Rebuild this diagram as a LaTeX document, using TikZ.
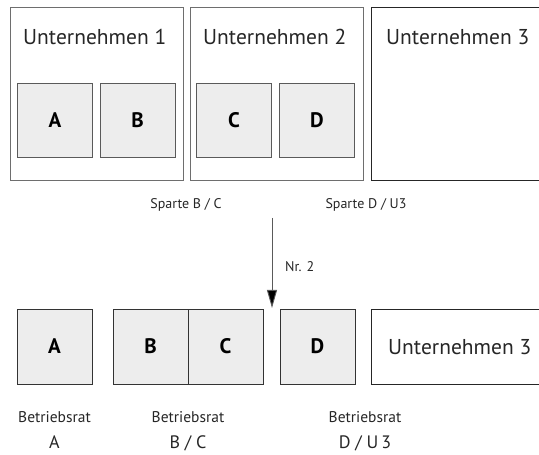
\documentclass[tikz,border=0pt]{standalone}
\usepackage{fontspec}
\setmainfont{PT Sans}
\usetikzlibrary{arrows.meta}
\definecolor{boxfill}{HTML}{EDEDED}
\definecolor{framegray}{HTML}{6E6E6E}
\definecolor{linegray}{HTML}{5A5A5A}
\tikzset{
  firm/.style={draw=framegray, line width=0.9pt, minimum width=173pt, minimum height=173pt, inner sep=0pt},
  firmopen/.style={draw=black!85, line width=0.9pt, minimum width=170pt, minimum height=173pt, inner sep=0pt},
  unit/.style={draw=linegray, fill=boxfill, line width=0.8pt, minimum width=75pt, minimum height=74pt, inner sep=0pt,
    font=\fontsize{21}{23}\selectfont\bfseries},
  unitlow/.style={draw=black!80, fill=boxfill, line width=0.8pt, minimum width=75pt, minimum height=75pt, inner sep=0pt,
    font=\fontsize{21}{23}\selectfont\bfseries},
  title/.style={anchor=base west, inner sep=0pt, font=\fontsize{21.5}{23}\selectfont, text=black!85},
  small/.style={anchor=base, inner sep=0pt, font=\fontsize{14}{16}\selectfont, text=black!85},
  council/.style={anchor=base, inner sep=0pt, font=\fontsize{15.5}{17}\selectfont, text=black!85},
  councilid/.style={anchor=base, inner sep=0pt, font=\fontsize{18}{20}\selectfont, text=black!85},
}
\begin{document}
\begin{tikzpicture}[x=1pt,y=1pt]
\useasboundingbox (0,0) rectangle (539,455);
\clip (0,0) rectangle (539,455);

% --- upper row: three companies with their divisions ---
\node[firm] (u1) at (96.5,361.5) {};
\node[firm] (u2) at (276.5,361.5) {};
\node[firmopen] (u3) at (456,361.5) {};
\node[title] (t1) at (23,410) {Unternehmen 1};
\node[title] (t2) at (203,410) {Unternehmen 2};
\node[title] (t3) at (386,410) {Unternehmen 3};

\node[unit] (a) at (55,335) {A};
\node[unit] (b) at (137.5,335) {B};
\node[unit] (c) at (234,335) {C};
\node[unit] (d) at (317,335) {D};

% --- division labels and the transition arrow ---
\node[small] (sbc) at (186,246) {Sparte B / C};
\node[small] (sdu) at (366,246) {Sparte D / U3};
\coordinate (arrtop) at (272,237);
\coordinate (arrtip) at (272,147);
\draw[draw=linegray, line width=0.9pt, -{Triangle[length=18pt,width=10pt,fill=black]}] (arrtop) -- (arrtip);
\node[small, anchor=base west] (nr) at (285,183) {Nr. 2};

% --- lower row: resulting works-council units ---
\node[unitlow] (la) at (54.5,108.5) {A};
\node[unitlow] (lb) at (150.5,108.5) {B};
\node[unitlow] (lc) at (225.5,108.5) {C};
\node[unitlow] (ld) at (317.5,108.5) {D};
\node[draw=black!85, line width=0.9pt, minimum width=170pt, minimum height=75pt, inner sep=0pt] (lu3) at (456,108.5) {};
\node[title] (lt3) at (388,100) {Unternehmen 3};

\node[council] (br1) at (54.5,32) {Betriebsrat};
\node[council] (br2) at (188,32) {Betriebsrat};
\node[council] (br3) at (365,32) {Betriebsrat};
\node[councilid] (n1) at (54.5,6) {A};
\node[councilid] (n2) at (188,6) {B / C};
\node[councilid] (n3) at (365,6) {D / U\,3};
\end{tikzpicture}
\end{document}
